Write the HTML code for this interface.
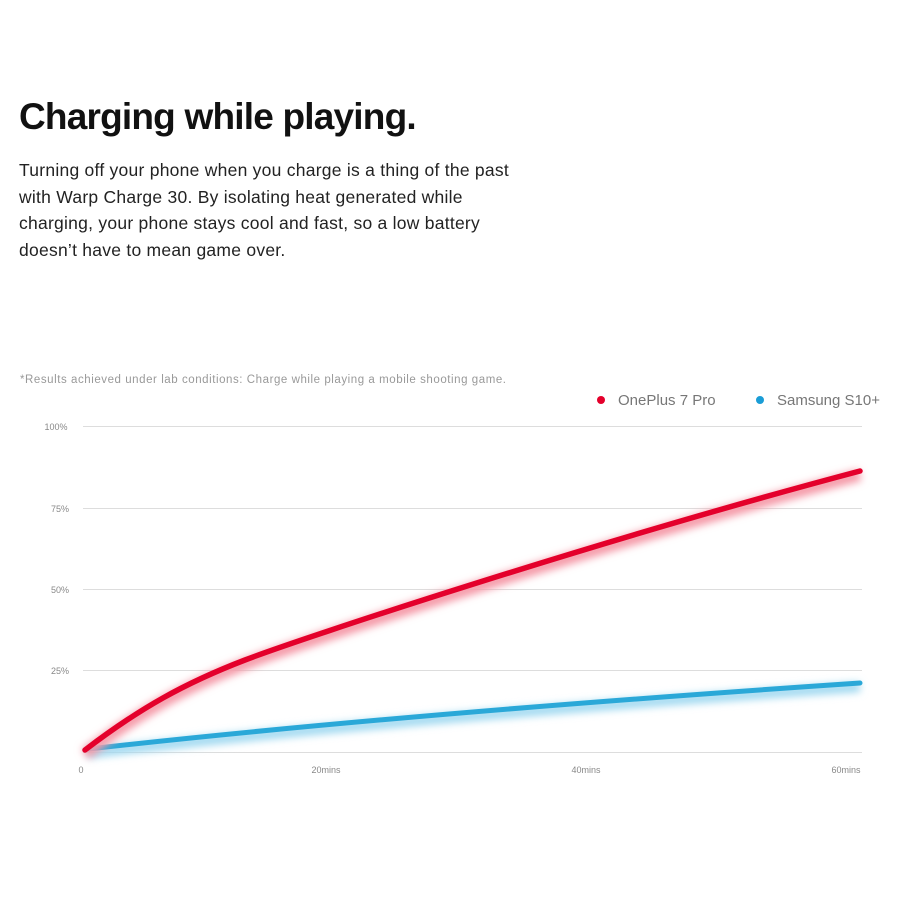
<!DOCTYPE html>
<html><head><style>
body{margin:0;width:900px;height:900px;background:#fff;font-family:"Liberation Sans",sans-serif;overflow:hidden;position:relative}
h1{position:absolute;left:19px;top:96px;margin:0;font-size:37px;font-weight:bold;color:#111;letter-spacing:-0.8px}
p{position:absolute;left:19px;top:157px;margin:0;font-size:17.5px;line-height:26.5px;color:#222;width:560px;letter-spacing:0.25px}
</style></head><body>
<h1>Charging while playing.</h1>
<p>Turning off your phone when you charge is a thing of the past<br>with Warp Charge 30. By isolating heat generated while<br>charging, your phone stays cool and fast, so a low battery<br>doesn’t have to mean game over.</p>
<svg width="900" height="900" style="position:absolute;left:0;top:0" font-family="Liberation Sans, sans-serif">
<defs><filter id="g" x="-10%" y="-30%" width="120%" height="160%"><feGaussianBlur stdDeviation="4"/></filter></defs>
<text x="20" y="383" font-size="11.5" fill="#999" textLength="486">*Results achieved under lab conditions: Charge while playing a mobile shooting game.</text>
<circle cx="601" cy="400" r="4" fill="#e4002b"/><text x="618" y="405" font-size="15" fill="#777">OnePlus 7 Pro</text>
<circle cx="760" cy="400" r="4" fill="#1a9dd6"/><text x="777" y="405" font-size="15" fill="#777">Samsung S10+</text>
<g stroke="#ddd" stroke-width="1">
<line x1="83" y1="426.5" x2="862" y2="426.5"/><line x1="83" y1="508.5" x2="862" y2="508.5"/>
<line x1="83" y1="589.5" x2="862" y2="589.5"/><line x1="83" y1="670.5" x2="862" y2="670.5"/>
<line x1="83" y1="752.5" x2="862" y2="752.5"/></g>
<g font-size="9" fill="#888" text-anchor="middle">
<text x="56" y="430">100%</text><text x="60" y="512">75%</text><text x="60" y="593">50%</text><text x="60" y="674">25%</text>
<text x="81" y="773">0</text><text x="326" y="773">20mins</text><text x="586" y="773">40mins</text><text x="846" y="773">60mins</text></g>
<path d="M88 749 Q400 714 860 683" stroke="#9fd8f0" stroke-width="10" fill="none" filter="url(#g)" transform="translate(0,4)"/>
<path d="M88 749 Q400 714 860 683" stroke="#2aa8d8" stroke-width="5" fill="none" stroke-linecap="round"/>
<path d="M85 750 C140 708 185 683 245 660 S600 540 860 471" stroke="#f59aa8" stroke-width="12" fill="none" filter="url(#g)" transform="translate(0,4)"/>
<path d="M85 750 C140 708 185 683 245 660 S600 540 860 471" stroke="#e4002b" stroke-width="5.5" fill="none" stroke-linecap="round"/>
</svg>
</body></html>
